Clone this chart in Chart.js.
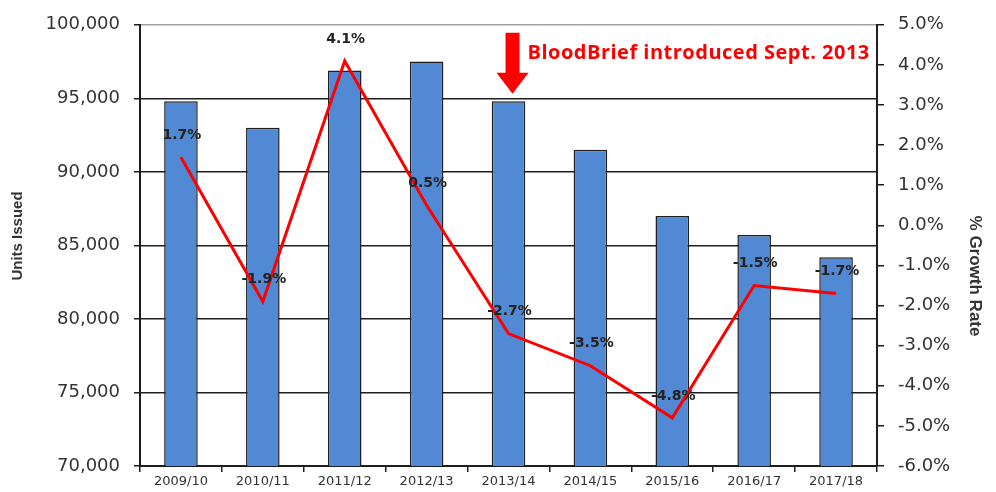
<!DOCTYPE html>
<html>
<head>
<meta charset="utf-8">
<title>Units Issued and Growth Rate</title>
<script src="https://cdn.jsdelivr.net/npm/chart.js@4.4.1/dist/chart.umd.min.js"></script>
<style>
  html, body { margin: 0; padding: 0; background: #fff; }
  canvas { display: block; }
</style>
</head>
<body>
<canvas id="units-chart" width="996" height="492"></canvas>
<script>
// DATA
const years = ["2009/10", "2010/11", "2011/12", "2012/13", "2013/14", "2014/15", "2015/16", "2016/17", "2017/18"];
const unitsIssued = [94800, 93000, 96900, 97500, 94800, 91500, 87000, 85700, 84200];
const growthRate = [1.7, -1.9, 4.1, 0.5, -2.7, -3.5, -4.8, -1.5, -1.7];

const noteText = "BloodBrief introduced Sept. 2013";
const noteYear = "2013/14";

const darkLine = "#1e1e1e";
const tickFont = { family: "DejaVu Sans", size: 18 };

// value labels above the growth line
const valueLabels = {
  id: "valueLabels",
  afterDatasetsDraw(chart) {
    const ctx = chart.ctx;
    const meta = chart.getDatasetMeta(1);
    ctx.save();
    ctx.font = "bold 14px 'DejaVu Sans'";
    ctx.fillStyle = "#222";
    ctx.textAlign = "center";
    ctx.textBaseline = "middle";
    meta.data.forEach((pt, i) => {
      ctx.fillText(growthRate[i].toFixed(1) + "%", pt.x + 1, pt.y - 22);
    });
    ctx.restore();
  }
};

// red arrow + note, and the two axis titles
const extras = {
  id: "extras",
  afterDraw(chart) {
    const ctx = chart.ctx;
    const area = chart.chartArea;
    const x = chart.scales.x.getPixelForValue(years.indexOf(noteYear)) + 4;
    const top = area.top + 8;

    ctx.save();
    ctx.fillStyle = "#ff0000";
    ctx.beginPath();
    ctx.moveTo(x - 7, top);
    ctx.lineTo(x + 7, top);
    ctx.lineTo(x + 7, top + 40);
    ctx.lineTo(x + 16, top + 40);
    ctx.lineTo(x, top + 61);
    ctx.lineTo(x - 16, top + 40);
    ctx.lineTo(x - 7, top + 40);
    ctx.closePath();
    ctx.fill();

    ctx.font = "bold 20px 'Open Sans'";
    ctx.letterSpacing = "0.5px";
    ctx.textAlign = "left";
    ctx.textBaseline = "alphabetic";
    ctx.fillText(noteText, x + 15, area.top + 34);
    ctx.letterSpacing = "0px";

    // axis titles
    ctx.fillStyle = "#333";
    ctx.textAlign = "center";
    ctx.textBaseline = "middle";
    ctx.font = "bold 15px 'Liberation Sans'";
    ctx.translate(18, 236);
    ctx.rotate(-Math.PI / 2);
    ctx.fillText("Units Issued", 0, 0);
    ctx.restore();

    ctx.save();
    ctx.fillStyle = "#333";
    ctx.textAlign = "center";
    ctx.textBaseline = "middle";
    ctx.font = "bold 17px 'Liberation Sans'";
    ctx.translate(975, 276);
    ctx.rotate(Math.PI / 2);
    ctx.fillText("% Growth Rate", 0, 0);
    ctx.restore();
  }
};

const chartCtx = document.getElementById("units-chart").getContext("2d");

new Chart(chartCtx, {
  data: {
    labels: years,
    datasets: [
      {
        type: "bar",
        label: "Units Issued",
        data: unitsIssued,
        yAxisID: "y",
        backgroundColor: "#5289d4",
        borderColor: darkLine,
        borderWidth: 1.5,
        categoryPercentage: 1,
        barPercentage: 0.41,
        order: 2
      },
      {
        type: "line",
        label: "% Growth Rate",
        data: growthRate,
        yAxisID: "y1",
        borderColor: "#ff0000",
        borderWidth: 3,
        pointRadius: 0,
        tension: 0,
        order: 1
      }
    ]
  },
  options: {
    responsive: false,
    animation: false,
    devicePixelRatio: 1,
    layout: { padding: { top: 23, left: 0, right: 0, bottom: 0 } },
    plugins: {
      legend: { display: false },
      tooltip: { enabled: false }
    },
    scales: {
      x: {
        offset: true,
        grid: { drawOnChartArea: false, offset: true, tickLength: 6, tickColor: darkLine, lineWidth: 1.5 },
        border: { color: darkLine, width: 2 },
        ticks: { color: "#333", font: { family: "DejaVu Sans", size: 13 }, padding: 2, maxRotation: 0 },
        afterFit(scale) { scale.height = 26; }
      },
      y: {
        position: "left",
        min: 70000,
        max: 100000,
        ticks: {
          stepSize: 5000,
          color: "#333",
          font: tickFont,
          padding: 14,
          callback: (v) => v.toLocaleString("en-US")
        },
        grid: {
          color: (c) => (c.tick && c.tick.value === 100000 ? "#a0a0a0" : darkLine),
          lineWidth: 1.5,
          tickLength: 6,
          tickColor: darkLine
        },
        border: { color: darkLine, width: 2 },
        afterFit(scale) { scale.width = 140; }
      },
      y1: {
        position: "right",
        min: -6,
        max: 5,
        ticks: {
          stepSize: 1,
          color: "#333",
          font: tickFont,
          padding: 14,
          callback: (v) => v.toFixed(1) + "%"
        },
        grid: { drawOnChartArea: false, tickLength: 7, tickColor: darkLine, lineWidth: 1.5 },
        border: { color: darkLine, width: 2 },
        afterFit(scale) { scale.width = 119; }
      }
    }
  },
  plugins: [valueLabels, extras]
});
</script>
</body>
</html>
